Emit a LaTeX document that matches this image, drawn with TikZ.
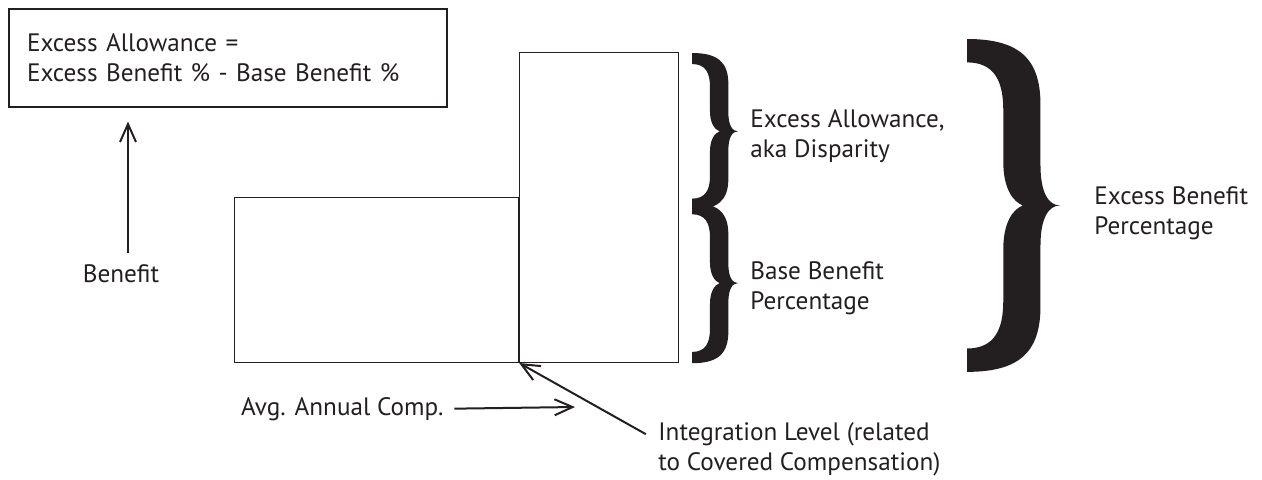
\documentclass[tikz,border=0pt]{standalone}
\usepackage{fontspec}
\setmainfont{PT Sans}
\usetikzlibrary{arrows.meta,positioning}
\definecolor{ink}{RGB}{35,31,32}
\begin{document}
\begin{tikzpicture}[x=0.5pt, y=-0.5pt, font=\fontsize{12.6}{15}\selectfont, color=ink]
\tikzset{bar/.style={draw, line width=0.6pt, inner sep=0pt}}
\tikzset{note/.style={align=left, inner sep=0pt}}
\tikzset{pointer/.style={-{Straight Barb[length=9pt, width=8pt]}, line width=1pt}}
% filled curly brace, ends at x=0, tip at x=1, y runs downwards
\tikzset{curly/.pic={
  \fill (0,0) .. controls (0.55,0) and (0.79,0.2) .. (0.79,0.7)
    -- (0.79,1.35) .. controls (0.79,1.65) and (0.88,1.78) .. (1,1.78)
    .. controls (0.88,1.78) and (0.79,1.91) .. (0.79,2.21)
    -- (0.79,2.86) .. controls (0.79,3.36) and (0.55,3.56) .. (0,3.56)
    -- (0,3.31) .. controls (0.3,3.31) and (0.39,3.1) .. (0.39,2.8)
    -- (0.39,2.25) .. controls (0.39,1.95) and (0.5,1.82) .. (0.6,1.78)
    .. controls (0.5,1.74) and (0.39,1.61) .. (0.39,1.31)
    -- (0.39,0.76) .. controls (0.39,0.46) and (0.3,0.25) .. (0,0.25) -- cycle;
  \coordinate (-tip) at (1,1.78);
}}
\useasboundingbox (0,0) rectangle (1262,479);
% formula box and the benefit axis
\node (formula) [bar, minimum width=219pt, minimum height=49pt, text width=201pt, align=left]
  at (228,58) {Excess Allowance =\\Excess Benefit \% - Base Benefit \%};
\node (benefit) [anchor=base] at (121,282) {Benefit};
\draw[pointer, shorten <=2pt, shorten >=7pt] ([xshift=3.5pt]benefit.north) -- ([xshift=3.5pt]benefit.north |- formula.south);
% the two bars
\node (avgbar) [bar, minimum width=142pt, minimum height=82.5pt, anchor=south west] at (234,363) {};
\node (excbar) [bar, minimum width=79.5pt, minimum height=155pt, anchor=south west] at (avgbar.south east) {};
% braces
\pic (upper) [xscale=46, yscale=44] at (692,53) {curly};
\pic (lower) [xscale=46, yscale=45] at (692,203) {curly};
\pic (whole) [xscale=93, yscale=93.5] at (967,39) {curly};
\node (disparity) [note, right=6pt of upper-tip, yshift=-2.5pt] {Excess Allowance,\\aka Disparity};
\node (basepct) [note, right=6pt of lower-tip, yshift=-2.5pt] {Base Benefit\\Percentage};
\node (excpct) [note, right=17pt of whole-tip, yshift=-4pt] {Excess Benefit\\Percentage};
% axis labels below
\node (avg) [anchor=base west] at (234,415) {Avg. Annual Comp.};
\coordinate (avgend) at (575,407);
\draw[pointer, shorten <=2pt] (avg.east) -- (avgend);
\node (integ) [note, anchor=west] at (658,449) {Integration Level (related\\to Covered Compensation)};
\draw[pointer, shorten <=7pt] ([yshift=4pt]integ.west) -- (avgbar.south east);
\end{tikzpicture}
\end{document}
